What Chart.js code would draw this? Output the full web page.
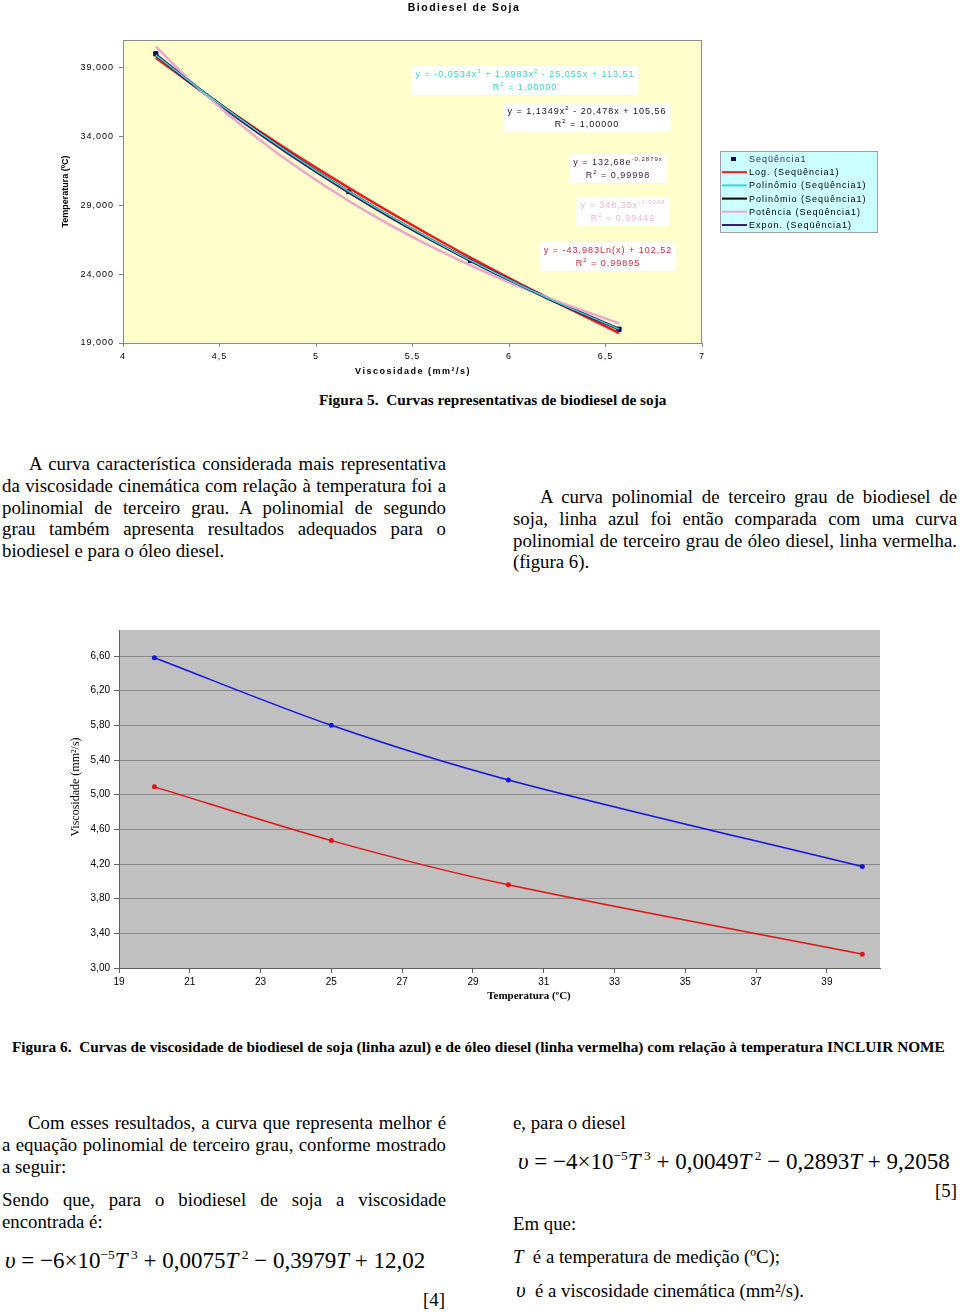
<!DOCTYPE html>
<html><head><meta charset="utf-8">
<script src="https://cdn.jsdelivr.net/npm/chart.js@4/dist/chart.umd.min.js"></script>
<style>
body{margin:0;background:#fff;width:960px;height:1312px;position:relative;overflow:hidden;font-family:"Liberation Serif","Times New Roman",serif;color:#000}
.abs{position:absolute}
canvas{display:block}
.para{position:absolute;font-size:18.8px;line-height:21.75px}
.ln{display:block;white-space:nowrap;text-align:justify;text-align-last:justify}
.last{text-align-last:left}
.cap{position:absolute;font-weight:bold;font-size:15.3px;line-height:18px;white-space:nowrap}
.eq{position:absolute;font-size:23px;line-height:26px;white-space:nowrap}
.eq sup{font-size:13.5px;vertical-align:0;position:relative;top:-9px;line-height:0}
.t17{position:absolute;font-size:18.8px;line-height:22px;white-space:nowrap}
</style>
</head><body>
<div class="abs" style="left:0;top:0;width:960px;height:385px"><canvas id="c1" width="960" height="385"></canvas></div>
<div class="abs" style="left:0;top:615px;width:960px;height:395px"><canvas id="c2" width="960" height="395"></canvas></div>

<div class="cap" style="left:319px;top:391px">Figura 5.&nbsp; Curvas representativas de biodiesel de soja</div>

<div class="para" style="left:2px;top:453px;width:444px">
<span class="ln" style="padding-left:27px">A curva característica considerada mais representativa</span>
<span class="ln">da viscosidade cinemática com relação à temperatura foi a</span>
<span class="ln">polinomial de terceiro grau. A polinomial de segundo</span>
<span class="ln">grau também apresenta resultados adequados para o</span>
<span class="ln last">biodiesel e para o óleo diesel.</span>
</div>

<div class="para" style="left:513px;top:486px;width:444px">
<span class="ln" style="padding-left:27px">A curva polinomial de terceiro grau de biodiesel de</span>
<span class="ln">soja, linha azul foi então comparada com uma curva</span>
<span class="ln">polinomial de terceiro grau de óleo diesel, linha vermelha.</span>
<span class="ln last">(figura 6).</span>
</div>

<div class="cap" style="left:12px;top:1038px">Figura 6.&nbsp; Curvas de viscosidade de biodiesel de soja (linha azul) e de óleo diesel (linha vermelha) com relação à temperatura INCLUIR NOME</div>

<div class="para" style="left:2px;top:1112px;width:444px">
<span class="ln" style="padding-left:26px">Com esses resultados, a curva que representa melhor é</span>
<span class="ln">a equação polinomial de terceiro grau, conforme mostrado</span>
<span class="ln last">a seguir:</span>
</div>
<div class="para" style="left:2px;top:1189px;width:444px">
<span class="ln">Sendo que, para o biodiesel de soja a viscosidade</span>
<span class="ln last">encontrada é:</span>
</div>
<div class="eq" style="left:5px;top:1248px"><i>υ</i> = −6×10<sup>−5</sup><i>T</i><sup>&nbsp;3</sup> + 0,0075<i>T</i><sup>&nbsp;2</sup> − 0,3979<i>T</i> + 12,02</div>
<div class="t17" style="left:0;top:1289px;width:445px;text-align:right">[4]</div>

<div class="t17" style="left:513px;top:1112px">e, para o diesel</div>
<div class="eq" style="left:518px;top:1149px"><i>υ</i> = −4×10<sup>−5</sup><i>T</i><sup>&nbsp;3</sup> + 0,0049<i>T</i><sup>&nbsp;2</sup> − 0,2893<i>T</i> + 9,2058</div>
<div class="t17" style="left:513px;top:1180px;width:444px;text-align:right">[5]</div>
<div class="t17" style="left:513px;top:1213px">Em que:</div>
<div class="t17" style="left:513px;top:1246px"><i>T</i>&nbsp; é a temperatura de medição (ºC);</div>
<div class="t17" style="left:516px;top:1279px"><i style="font-size:21px">υ</i>&nbsp; é a viscosidade cinemática (mm²/s).</div>

<script>
// ---------- Figure 5 data ----------
const viscSoja = [4.17, 5.17, 5.80, 6.57];
const tempSoja = [40, 30, 25, 20];
const trendX     = [4.17, 4.4, 4.7, 5.0, 5.3, 5.6, 5.9, 6.2, 6.57];
const trendLog   = [39.72, 37.35, 34.45, 31.73, 29.17, 26.75, 24.45, 22.27, 19.72];
const trendPoly3 = [39.90, 37.41, 34.35, 31.52, 28.90, 26.49, 24.28, 22.26, 20.01];
const trendPoly2 = [39.90, 37.43, 34.38, 31.54, 28.91, 26.47, 24.25, 22.22, 20.01];
const trendPower = [40.52, 37.37, 33.84, 30.83, 28.23, 25.98, 24.01, 22.29, 20.43];
const trendExpon = [39.94, 37.37, 34.29, 31.45, 28.84, 26.46, 24.27, 22.26, 20.01];
const topXTicks = [4, 4.5, 5, 5.5, 6, 6.5, 7];
const topXLabels = ['4', '4,5', '5', '5,5', '6', '6,5', '7'];
const topYTicks = [19, 24, 29, 34, 39];
const topYLabels = ['19,000', '24,000', '29,000', '34,000', '39,000'];
const legendLabels = ['Seqüência1', 'Log. (Seqüência1)', 'Polinômio (Seqüência1)', 'Polinômio (Seqüência1)', 'Potência (Seqüência1)', 'Expon. (Seqüência1)'];

// ---------- Figure 6 data ----------
const temperatura = [20, 25, 30, 40];
const viscBiodiesel = [6.58, 5.80, 5.17, 4.17];
const viscDiesel = [5.09, 4.47, 3.96, 3.16];
const botXTicks = [19, 21, 23, 25, 27, 29, 31, 33, 35, 37, 39];
const botXLabels = ['19', '21', '23', '25', '27', '29', '31', '33', '35', '37', '39'];
const botYTicks = [3.0, 3.4, 3.8, 4.2, 4.6, 5.0, 5.4, 5.8, 6.2, 6.6];
const botYLabels = ['3,00', '3,40', '3,80', '4,20', '4,60', '5,00', '5,40', '5,80', '6,20', '6,60'];

const C_LOG = '#E41E1E', C_P3 = '#3CD2D6', C_P2 = '#000000', C_POW = '#EBA6CC', C_EXP = '#3E1A6E', C_PT = '#0A0A5A';
const SANS = '"Liberation Sans", Arial, sans-serif';

function pts(xs, ys) { return xs.map((x, i) => ({x: x, y: ys[i]})); }
function trend(label, ys, color, w) {
  return {label: label, data: pts(trendX, ys), showLine: true, borderColor: color, backgroundColor: color,
    borderWidth: w, pointRadius: 0, cubicInterpolationMode: 'monotone'};
}

function richWidth(ctx, segs, size) {
  let w = 0;
  for (const s of segs) { ctx.font = (s.sup ? Math.round(size * 0.7) : size) + 'px ' + SANS; w += ctx.measureText(s.t).width; }
  return w;
}
function drawRich(ctx, segs, cx, y, size, color) {
  const w = richWidth(ctx, segs, size);
  let x = cx - w / 2;
  ctx.fillStyle = color; ctx.textBaseline = 'middle'; ctx.textAlign = 'left';
  for (const s of segs) {
    ctx.font = (s.sup ? Math.round(size * 0.7) : size) + 'px ' + SANS;
    ctx.fillText(s.t, x, s.sup ? y - 4 : y);
    x += ctx.measureText(s.t).width;
  }
  return w;
}

const equations = [
  {color: '#3CCFD4', cx: 525, y: 75, l1: [{t:'y = -0,0534x'},{t:'3',sup:1},{t:' + 1,9983x'},{t:'2',sup:1},{t:' - 25,055x + 113,51'}], l2: [{t:'R'},{t:'2',sup:1},{t:' = 1,00000'}]},
  {color: '#111111', cx: 587, y: 112, l1: [{t:'y = 1,1349x'},{t:'2',sup:1},{t:' - 20,478x + 105,56'}], l2: [{t:'R'},{t:'2',sup:1},{t:' = 1,00000'}]},
  {color: '#3A1846', cx: 618, y: 163, l1: [{t:'y = 132,68e'},{t:'-0,2879x',sup:1}], l2: [{t:'R'},{t:'2',sup:1},{t:' = 0,99998'}]},
  {color: '#EFB6D6', cx: 623, y: 206, l1: [{t:'y = 348,35x'},{t:'-1,5068',sup:1}], l2: [{t:'R'},{t:'2',sup:1},{t:' = 0,99442'}]},
  {color: '#C42A3C', cx: 608, y: 251, l1: [{t:'y = -43,983Ln(x) + 102,52'}], l2: [{t:'R'},{t:'2',sup:1},{t:' = 0,99895'}]}
];

const topPlugin = {
  id: 'topDeco',
  beforeDraw(chart) {
    const {ctx, chartArea: a} = chart;
    ctx.save();
    ctx.fillStyle = '#FFFFCC';
    ctx.fillRect(a.left, a.top, a.right - a.left, a.bottom - a.top);
    ctx.restore();
    ctx.letterSpacing = '1px';
  },
  afterDatasetsDraw(chart) {
    const {ctx, chartArea: a} = chart;
    ctx.save();
    ctx.strokeStyle = '#8A8A8A'; ctx.lineWidth = 1;
    ctx.strokeRect(a.left + 0.5, a.top + 0.5, a.right - a.left - 1, a.bottom - a.top);
    ctx.letterSpacing = '1px';
    for (const e of equations) {
      const w = Math.max(richWidth(ctx, e.l1, 9), richWidth(ctx, e.l2, 9));
      ctx.fillStyle = '#FFFFFF';
      ctx.fillRect(e.cx - w / 2 - 4, e.y - 9, w + 8, 29);
      drawRich(ctx, e.l1, e.cx, e.y, 9, e.color);
      drawRich(ctx, e.l2, e.cx, e.y + 13, 9, e.color);
    }
    ctx.restore();
  },
  afterDraw(chart) {
    const {ctx, chartArea: a} = chart;
    ctx.save();
    ctx.letterSpacing = '1.5px';
    ctx.fillStyle = '#000'; ctx.textAlign = 'center'; ctx.textBaseline = 'middle';
    ctx.font = 'bold 10.5px ' + SANS;
    ctx.fillText('Biodiesel de Soja', 464, 8);
    ctx.font = 'bold 9px ' + SANS;
    ctx.fillText('Viscosidade (mm²/s)', 413, 372);
    ctx.letterSpacing = '0px';
    ctx.save();
    ctx.translate(66, (a.top + a.bottom) / 2);
    ctx.rotate(-Math.PI / 2);
    ctx.font = 'bold 9px ' + SANS;
    ctx.fillText('Temperatura (ºC)', 0, 0);
    ctx.restore();
    const lx = 720, ly = 151, lw = 157, lh = 81;
    ctx.fillStyle = '#CCFFFF';
    ctx.fillRect(lx, ly, lw, lh);
    ctx.strokeStyle = '#A0A0A0'; ctx.lineWidth = 1;
    ctx.strokeRect(lx + 0.5, ly + 0.5, lw, lh);
    const colors = [C_PT, C_LOG, C_P3, C_P2, C_POW, C_EXP];
    ctx.letterSpacing = '1px';
    ctx.font = '9px ' + SANS; ctx.textAlign = 'left';
    legendLabels.forEach((lab, i) => {
      const y = 159 + i * 13.2;
      if (i === 0) {
        ctx.fillStyle = C_PT; ctx.fillRect(731, y - 2, 5, 4);
        ctx.fillStyle = '#2A2A6A';
      } else {
        ctx.strokeStyle = colors[i]; ctx.lineWidth = 2;
        ctx.beginPath(); ctx.moveTo(722, y); ctx.lineTo(747, y); ctx.stroke();
        ctx.fillStyle = '#000';
      }
      ctx.fillText(lab, 749, y + 0.5);
    });
    ctx.restore();
  }
};

new Chart(document.getElementById('c1'), {
  type: 'scatter',
  data: {datasets: [
    trend('Polinômio3', trendPoly3, C_P3, 1.5),
    trend('Polinômio2', trendPoly2, C_P2, 1.5),
    trend('Potência', trendPower, C_POW, 2.5),
    trend('Expon.', trendExpon, C_EXP, 3),
    trend('Log.', trendLog, C_LOG, 2.5),
    {label: 'Seqüência1', data: pts(viscSoja, tempSoja), showLine: false, pointStyle: 'rect', pointRadius: 3,
      backgroundColor: C_PT, borderColor: C_PT}
  ]},
  options: {
    responsive: false, animation: false, events: [],
    layout: {padding: {left: 0, right: 258, top: 40, bottom: 0}},
    plugins: {legend: {display: false}, tooltip: {enabled: false}},
    scales: {
      x: {type: 'linear', min: 4, max: 7,
        afterBuildTicks: s => { s.ticks = topXTicks.map(v => ({value: v})); },
        afterFit: s => { s.height = 42; },
        ticks: {font: {family: SANS, size: 9}, color: '#000', padding: 4, maxRotation: 0, autoSkip: false,
          callback: (v, i) => topXLabels[i]},
        grid: {drawOnChartArea: false, tickLength: 4, color: '#808080'},
        border: {color: '#808080'}},
      y: {type: 'linear', min: 19, max: 41,
        afterBuildTicks: s => { s.ticks = topYTicks.map(v => ({value: v})); },
        afterFit: s => { s.width = 123; },
        ticks: {font: {family: SANS, size: 9}, color: '#000', padding: 5, autoSkip: false,
          callback: (v, i) => topYLabels[i]},
        grid: {drawOnChartArea: false, tickLength: 4, color: '#808080'},
        border: {color: '#808080'}}
    }
  },
  plugins: [topPlugin]
});

const botPlugin = {
  id: 'botDeco',
  beforeDraw(chart) {
    const {ctx, chartArea: a} = chart;
    ctx.save();
    ctx.fillStyle = '#C0C0C0';
    ctx.fillRect(a.left, a.top, a.right - a.left, a.bottom - a.top);
    ctx.restore();
  },
  afterDraw(chart) {
    const {ctx} = chart;
    ctx.save();
    ctx.fillStyle = '#000'; ctx.textAlign = 'center'; ctx.textBaseline = 'middle';
    ctx.font = 'bold 11px "Liberation Serif", serif';
    ctx.fillText('Temperatura (ºC)', 529, 381);
    ctx.translate(76, 172);
    ctx.rotate(-Math.PI / 2);
    ctx.font = '12px "Liberation Serif", serif';
    ctx.fillText('Viscosidade (mm²/s)', 0, 0);
    ctx.restore();
  }
};

new Chart(document.getElementById('c2'), {
  type: 'line',
  data: {datasets: [
    {label: 'Biodiesel de soja', data: pts(temperatura, viscBiodiesel), borderColor: '#1414E0', backgroundColor: '#1414E0',
      borderWidth: 1.5, pointRadius: 2.5, pointBorderWidth: 0, tension: 0.3},
    {label: 'Óleo diesel', data: pts(temperatura, viscDiesel), borderColor: '#E01414', backgroundColor: '#E01414',
      borderWidth: 1.5, pointRadius: 2.5, pointBorderWidth: 0, tension: 0.3}
  ]},
  options: {
    responsive: false, animation: false, events: [],
    layout: {padding: {left: 0, right: 80, top: 15, bottom: 0}},
    plugins: {legend: {display: false}, tooltip: {enabled: false}},
    scales: {
      x: {type: 'linear', min: 19, max: 40.5,
        afterBuildTicks: s => { s.ticks = botXTicks.map(v => ({value: v})); },
        afterFit: s => { s.height = 42; },
        ticks: {font: {family: SANS, size: 10}, color: '#000', padding: 3, maxRotation: 0, autoSkip: false,
          callback: (v, i) => botXLabels[i]},
        grid: {drawOnChartArea: false, tickLength: 5, color: '#606060'},
        border: {color: '#606060'}},
      y: {type: 'linear', min: 3.0, max: 6.9,
        afterBuildTicks: s => { s.ticks = botYTicks.map(v => ({value: v})); },
        afterFit: s => { s.width = 119; },
        ticks: {font: {family: SANS, size: 10}, color: '#000', padding: 4, autoSkip: false,
          callback: (v, i) => botYLabels[i]},
        grid: {color: '#888888', tickLength: 5, tickColor: '#606060'},
        border: {color: '#606060'}}
    }
  },
  plugins: [botPlugin]
});
</script>
</body></html>
